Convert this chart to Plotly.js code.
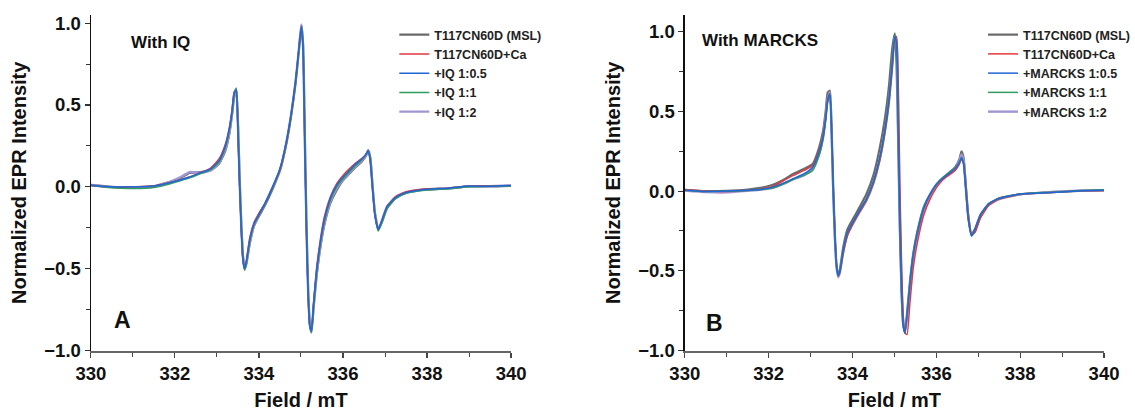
<!DOCTYPE html>
<html>
<head>
<meta charset="utf-8">
<script src="https://cdn.plot.ly/plotly-3.0.1.min.js"></script>
<style>html,body{margin:0;padding:0;background:#fff;}#chart{width:1135px;height:411px;}</style>
</head>
<body>
<div id="chart"></div>
<script>
// Magnetic field (mT), shared by all spectra
const field = [330.0, 330.5, 331.0, 331.5, 331.8, 332.1, 332.35, 332.6, 332.85, 333.05,
  333.2, 333.3, 333.36, 333.41, 333.46, 333.5, 333.54, 333.58, 333.62, 333.66,
  333.7, 333.78, 333.88, 334.0, 334.15, 334.33, 334.5, 334.65, 334.77, 334.87,
  334.95, 335.01, 335.05, 335.09, 335.13, 335.17, 335.21, 335.25, 335.3, 335.37,
  335.45, 335.55, 335.7, 335.85, 336.0, 336.15, 336.3, 336.45, 336.55, 336.6,
  336.65, 336.7, 336.76, 336.84, 336.92, 337.05, 337.25, 337.5, 338.0, 338.5,
  339.0, 339.5, 340.0];

// Panel A: With IQ
const A_msl = [0.012, 0.0, -0.003, 0.004, 0.025, 0.05, 0.085, 0.09, 0.10, 0.14,
  0.22, 0.33, 0.44, 0.55, 0.60, 0.40, 0.06, -0.22, -0.42, -0.50,
  -0.47, -0.35, -0.24, -0.18, -0.11, -0.01, 0.10, 0.26, 0.44, 0.63,
  0.83, 0.99, 0.87, 0.33, -0.22, -0.62, -0.83, -0.88, -0.74, -0.55,
  -0.39, -0.24, -0.10, -0.02, 0.04, 0.08, 0.12, 0.155, 0.19, 0.22,
  0.18, 0.02, -0.16, -0.26, -0.22, -0.13, -0.07, -0.037, -0.016, -0.01,
  0.003, 0.002, 0.006];
const A_ca = [0.008, -0.003, 0.0, 0.005, 0.02, 0.04, 0.06, 0.085, 0.115, 0.17,
  0.26, 0.37, 0.47, 0.58, 0.59, 0.34, 0.01, -0.26, -0.45, -0.50,
  -0.45, -0.31, -0.22, -0.16, -0.10, 0.0, 0.10, 0.26, 0.44, 0.63,
  0.84, 0.98, 0.85, 0.30, -0.25, -0.65, -0.85, -0.88, -0.71, -0.50,
  -0.34, -0.19, -0.06, 0.02, 0.07, 0.11, 0.145, 0.175, 0.20, 0.22,
  0.16, 0.0, -0.17, -0.26, -0.21, -0.12, -0.06, -0.03, -0.012, -0.008,
  0.004, 0.006, 0.005];
const A_iq05 = [0.01, 0.0, 0.0, 0.005, 0.02, 0.04, 0.06, 0.085, 0.11, 0.16,
  0.25, 0.36, 0.46, 0.57, 0.59, 0.35, 0.02, -0.25, -0.44, -0.50,
  -0.46, -0.33, -0.23, -0.17, -0.10, 0.0, 0.11, 0.27, 0.45, 0.64,
  0.84, 0.98, 0.85, 0.30, -0.25, -0.65, -0.85, -0.88, -0.72, -0.52,
  -0.36, -0.21, -0.07, 0.01, 0.06, 0.10, 0.14, 0.17, 0.20, 0.22,
  0.16, 0.0, -0.17, -0.26, -0.21, -0.12, -0.065, -0.035, -0.015, -0.008,
  0.005, 0.003, 0.008];
const A_iq1 = [0.01, -0.006, -0.01, -0.004, 0.012, 0.035, 0.055, 0.08, 0.105, 0.15,
  0.24, 0.35, 0.45, 0.56, 0.60, 0.37, 0.03, -0.25, -0.45, -0.51,
  -0.47, -0.33, -0.23, -0.17, -0.10, 0.0, 0.11, 0.27, 0.45, 0.64,
  0.84, 0.98, 0.86, 0.31, -0.24, -0.64, -0.85, -0.89, -0.73, -0.53,
  -0.37, -0.22, -0.08, 0.0, 0.05, 0.09, 0.13, 0.165, 0.20, 0.22,
  0.17, 0.01, -0.17, -0.27, -0.22, -0.13, -0.07, -0.04, -0.02, -0.012,
  0.0, 0.003, 0.006];
const A_iq2 = [0.01, -0.002, -0.005, 0.002, 0.022, 0.055, 0.09, 0.085, 0.10, 0.145,
  0.23, 0.34, 0.45, 0.56, 0.60, 0.38, 0.04, -0.24, -0.43, -0.50,
  -0.47, -0.34, -0.24, -0.17, -0.10, 0.0, 0.10, 0.27, 0.45, 0.64,
  0.84, 0.99, 0.86, 0.32, -0.23, -0.63, -0.84, -0.89, -0.73, -0.54,
  -0.38, -0.23, -0.09, -0.01, 0.045, 0.085, 0.125, 0.16, 0.195, 0.225,
  0.17, 0.01, -0.16, -0.26, -0.21, -0.12, -0.065, -0.035, -0.015, -0.01,
  0.004, 0.004, 0.008];

// Panel B: With MARCKS
const B_msl = [0.008, 0.0, 0.002, 0.01, 0.02, 0.04, 0.07, 0.11, 0.14, 0.17,
  0.27, 0.38, 0.50, 0.62, 0.63, 0.38, 0.0, -0.29, -0.47, -0.53,
  -0.49, -0.35, -0.24, -0.18, -0.11, -0.02, 0.10, 0.27, 0.45, 0.66,
  0.90, 0.99, 0.80, 0.30, -0.25, -0.64, -0.84, -0.88, -0.77, -0.57,
  -0.39, -0.25, -0.10, -0.02, 0.04, 0.08, 0.115, 0.15, 0.20, 0.25,
  0.21, 0.05, -0.15, -0.27, -0.24, -0.15, -0.08, -0.045, -0.02, -0.01,
  -0.003, 0.003, 0.005];
const B_ca = [0.01, 0.0, -0.002, 0.005, 0.012, 0.03, 0.065, 0.10, 0.13, 0.16,
  0.25, 0.35, 0.46, 0.58, 0.61, 0.42, 0.05, -0.26, -0.46, -0.53,
  -0.51, -0.39, -0.28, -0.21, -0.14, -0.06, 0.05, 0.19, 0.36, 0.55,
  0.78, 0.96, 0.97, 0.70, 0.05, -0.45, -0.78, -0.89, -0.90, -0.70,
  -0.48, -0.32, -0.15, -0.05, 0.02, 0.07, 0.10, 0.13, 0.17, 0.20,
  0.18, 0.05, -0.14, -0.27, -0.26, -0.17, -0.09, -0.05, -0.02, -0.012,
  -0.004, 0.002, 0.004];
const B_m05 = [0.005, -0.003, 0.0, 0.005, 0.01, 0.025, 0.05, 0.08, 0.11, 0.15,
  0.24, 0.34, 0.45, 0.57, 0.61, 0.40, 0.02, -0.28, -0.47, -0.53,
  -0.50, -0.37, -0.26, -0.20, -0.13, -0.05, 0.06, 0.21, 0.38, 0.57,
  0.80, 0.97, 0.93, 0.40, -0.20, -0.62, -0.84, -0.89, -0.78, -0.58,
  -0.40, -0.26, -0.11, -0.02, 0.04, 0.08, 0.11, 0.14, 0.18, 0.21,
  0.17, 0.02, -0.17, -0.28, -0.24, -0.15, -0.08, -0.045, -0.018, -0.012,
  -0.005, 0.002, 0.006];
const B_m1 = [0.006, -0.002, 0.0, 0.004, 0.01, 0.02, 0.045, 0.075, 0.10, 0.13,
  0.22, 0.33, 0.45, 0.57, 0.61, 0.39, 0.01, -0.28, -0.47, -0.53,
  -0.50, -0.37, -0.26, -0.20, -0.13, -0.05, 0.06, 0.21, 0.38, 0.58,
  0.81, 0.98, 0.92, 0.38, -0.21, -0.62, -0.84, -0.89, -0.78, -0.57,
  -0.39, -0.25, -0.10, -0.02, 0.045, 0.085, 0.115, 0.145, 0.18, 0.21,
  0.17, 0.02, -0.17, -0.28, -0.24, -0.15, -0.08, -0.045, -0.018, -0.01,
  -0.004, 0.004, 0.008];
const B_m2 = [0.004, -0.006, -0.008, 0.002, 0.008, 0.02, 0.045, 0.075, 0.10, 0.14,
  0.23, 0.34, 0.46, 0.58, 0.62, 0.40, 0.02, -0.28, -0.48, -0.54,
  -0.51, -0.38, -0.27, -0.21, -0.14, -0.06, 0.05, 0.20, 0.37, 0.56,
  0.79, 0.97, 0.94, 0.42, -0.18, -0.60, -0.83, -0.89, -0.79, -0.59,
  -0.41, -0.27, -0.12, -0.03, 0.035, 0.075, 0.11, 0.14, 0.19, 0.23,
  0.19, 0.03, -0.16, -0.28, -0.25, -0.16, -0.085, -0.05, -0.02, -0.01,
  -0.002, 0.004, 0.006];

const namesA = ['T117CN60D (MSL)', 'T117CN60D+Ca', '+IQ 1:0.5', '+IQ 1:1', '+IQ 1:2'];
const namesB = ['T117CN60D (MSL)', 'T117CN60D+Ca', '+MARCKS 1:0.5', '+MARCKS 1:1', '+MARCKS 1:2'];
const panelLabels = ['A', 'B'];
const panelTitles = ['With IQ', 'With MARCKS'];

const colors = ['#6a6a6a', '#e0393e', '#2166d6', '#2f9d5f', '#a295d2'];
const widths = [2.2, 1.5, 1.5, 1.5, 2.4];
const drawOrder = [0, 4, 1, 3, 2];

const seriesA = [A_msl, A_ca, A_iq05, A_iq1, A_iq2];
const seriesB = [B_msl, B_ca, B_m05, B_m1, B_m2];

const traces = [];
[[seriesA, namesA, 'x', 'y', 'legend'], [seriesB, namesB, 'x2', 'y2', 'legend2']].forEach(([ser, nm, xa, ya, lg]) => {
  drawOrder.forEach(i => {
    traces.push({
      x: field, y: ser[i], name: nm[i], type: 'scatter', mode: 'lines',
      xaxis: xa, yaxis: ya, legend: lg, legendrank: i + 1,
      line: {color: colors[i], width: widths[i], shape: 'spline', smoothing: 0.5}, hoverinfo: 'skip'
    });
  });
});

const FONT = 'Liberation Sans, Arial, sans-serif';
const tickFont = {family: FONT, size: 18.5, weight: 'bold', color: '#111'};
const titleFont = {family: FONT, size: 20, weight: 'bold', color: '#111'};

function xAxis(domain, anchor) {
  return {
    domain: domain, anchor: anchor, range: [330, 340], autorange: false,
    tickmode: 'linear', tick0: 330, dtick: 2, ticks: 'outside', ticklen: 5, tickwidth: 1.2, tickcolor: '#444',
    minor: {dtick: 1, tick0: 330, ticks: 'outside', ticklen: 4, tickwidth: 1, tickcolor: '#444'},
    showline: true, linecolor: '#666', linewidth: 2, showgrid: false, zeroline: false,
    tickfont: tickFont, automargin: false,
    title: {text: 'Field / mT', font: titleFont, standoff: 10}
  };
}
function yAxis(domain, anchor, top) {
  return {
    domain: domain, anchor: anchor, range: [-1, top], autorange: false,
    tickmode: 'linear', tick0: -1, dtick: 0.5, tickformat: '.1f', ticks: 'outside', ticklen: 5, tickwidth: 1.2, tickcolor: '#333',
    minor: {dtick: 0.25, tick0: -1, ticks: 'outside', ticklen: 4, tickwidth: 1, tickcolor: '#333'},
    showline: true, linecolor: '#111', linewidth: 1.3, showgrid: false, zeroline: false,
    tickfont: tickFont, automargin: false,
    title: {text: 'Normalized EPR Intensity', font: titleFont, standoff: 12}
  };
}

const legendFont = {family: FONT, size: 12.5, weight: 'bold', color: '#222'};

const layout = {
  width: 1135, height: 411,
  margin: {l: 0, r: 0, t: 0, b: 0},
  paper_bgcolor: '#fff', plot_bgcolor: '#fff',
  showlegend: true,
  xaxis: xAxis([91/1135, 512/1135], 'y'),
  yaxis: yAxis([1 - 350.5/411, 1 - 15/411], 'x', 1.05),
  xaxis2: xAxis([686/1135, 1106/1135], 'y2'),
  yaxis2: yAxis([1 - 350.5/411, 1 - 15/411], 'x2', 1.105),
  legend: {x: 395/1135, y: 1 - 20/411, xanchor: 'left', yanchor: 'top', bgcolor: 'rgba(0,0,0,0)',
    font: legendFont, tracegroupgap: 0, traceorder: 'normal'},
  legend2: {x: 985/1135, y: 1 - 20/411, xanchor: 'left', yanchor: 'top', bgcolor: 'rgba(0,0,0,0)',
    font: legendFont, tracegroupgap: 0, traceorder: 'normal'},
  annotations: [
    {xref: 'paper', yref: 'paper', x: 129/1135, y: 1 - 43/411, xanchor: 'left', yanchor: 'middle', showarrow: false,
      text: panelTitles[0], font: {family: FONT, size: 17, weight: 'bold', color: '#111'}},
    {xref: 'paper', yref: 'paper', x: 701/1135, y: 1 - 40/411, xanchor: 'left', yanchor: 'middle', showarrow: false,
      text: panelTitles[1], font: {family: FONT, size: 17, weight: 'bold', color: '#111'}},
    {xref: 'paper', yref: 'paper', x: 123/1135, y: 1 - 320/411, xanchor: 'center', yanchor: 'middle', showarrow: false,
      text: panelLabels[0], font: {family: FONT, size: 23, weight: 'bold', color: '#111'}},
    {xref: 'paper', yref: 'paper', x: 716/1135, y: 1 - 323/411, xanchor: 'center', yanchor: 'middle', showarrow: false,
      text: panelLabels[1], font: {family: FONT, size: 23, weight: 'bold', color: '#111'}}
  ]
};

Plotly.newPlot('chart', traces, layout, {staticPlot: true, displayModeBar: false});
</script>
</body>
</html>
